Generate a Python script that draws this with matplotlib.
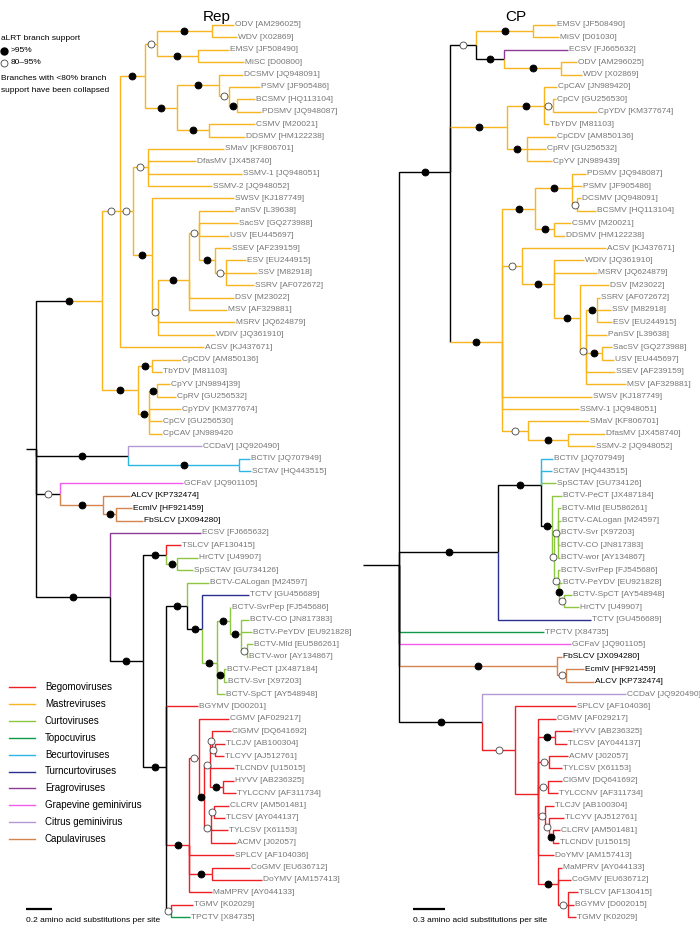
import matplotlib
matplotlib.use('Agg')
import matplotlib.pyplot as plt
from matplotlib.lines import Line2D

plt.rcParams['font.family'] = ['Liberation Sans', 'DejaVu Sans']

# virus groups (legend order) and their colours
group_codes = ['be', 'ma', 'cu', 'to', 'bc', 'tu', 'er', 'gr', 'ci', 'ca']
group_names = ['Begomoviruses', 'Mastreviruses', 'Curtoviruses', 'Topocuvirus',
               'Becurtoviruses', 'Turncurtoviruses', 'Eragroviruses',
               'Grapevine geminivirus', 'Citrus geminivirus', 'Capulaviruses']
group_colors = ['#ED2024', '#F9B51E', '#8DC63F', '#0E9A48', '#2AB7E3',
                '#2B3090', '#8E3B97', '#F25CEE', '#B49AD2', '#D4844C']

# trees: newick, branch lengths in amino acid substitutions per site
# internal label: '*' = aLRT >95%, 'o' = 80-95%
# '=xx' = group colour of the branch ('|' vertical part black, '/' colour starts mid-branch)
rep_tree = """
(
 (
  (
   (
    (
     (ODV [AM296025]:0.169,WDV [X02869]:0.192)*:0.423,
     (EMSV [JF508490]:0.238,MiSC [D00800]:0.354)*:0.315
    )o:0.092,
    (
     (DCSMV [JQ948091]:0.185,(PSMV [JF905486]:0.238,(BCSMV [HQ113104]:0.138,PDSMV [JQ948087]:0.185)*:0.062)o:0.077)*:0.323,
     (CSMV [M20021]:0.354,DDSMV [HM122238]:0.277)*:0.246
    )*:0.246
   )*:0.192,
   (
    (SMaV [KF806701]:0.585,DfasMV [JX458740]:0.369,SSMV-1 [JQ948051]:0.723,SSMV-2 [JQ948052]:0.492)o:0.115,
    (
     SWSV [KJ187749]:0.631,
     (
      (
       (
        PanSV [L39638]:0.269,SacSV [GQ273988]:0.3,USV [EU445697]:0.231,
        (SSEV [AF239159]:0.123,(ESV [EU244915]:0.154,SSV [M82918]:0.238,SSRV [AF072672]:0.215)o:0.085)*:0.123
       )o:0.077,
       DSV [M23022]:0.346,MSV [AF329881]:0.292
      )*:0.238,
      MSRV [JQ624879]:0.592,WDIV [JQ361910]:0.438
     )o:0.046
    )*:0.146
   )o:0.1,
   ACSV [KJ437671]:0.646
  )o:0.138,
  (
   (CpCDV [AM850136]:0.223,TbYDV [M81103]:0.077)*:0.108,
   ((CpYV [JN9894]39]:0.1,CpRV [GU256532]:0.146)*:0.062,CpYDV [KM377674]:0.246,CpCV [GU256530]:0.1,CpCAV [JN989420:0.1)*:0.085
  )*:0.277
 )*=ma/:0.508,
 (CCDaV] [JQ920490]=ci:0.569,(BCTIV [JQ707949]:0.085,SCTAV [HQ443515]:0.092)*=bc:0.854)*:0.708,
 (GCFaV [JQ901105]=gr:0.946,(ALCV [KP732474]:0.208,(EcmlV [HF921459]:0.123,FbSLCV [JX094280]:0.208)*:0.1)*=ca:0.331)o:0.185,
 (
  ECSV [FJ665632]=er:0.7,
  (
   (TSLCV [AF130415]=be:0.115,(HrCTV [U49907]:0.162,SpSCTAV [GU734126]:0.123)*=cu:0.085)*:0.177,
   (
    (
     BCTV-CALogan [M24597]=cu:0.169,
     (
      TCTV [GU456689]=tu:0.362,
      (
       (BCTV-SvrPep [FJ545686]:0.004,(BCTV-CO [JN817383]:0.062,BCTV-PeYDV [EU921828]:0.085,(BCTV-Mld [EU586261]:0.046,BCTV-wor [AY134867]:0.008)o:0.046)*:0.085)*:0.1,
       (BCTV-PeCT [JX487184]:0.015,BCTV-Svr [X97203]:0.023)*:0.054,
       BCTV-SpCT [AY548948]:0.062
      )*=cu:0.115
     )*:0.115
    )*:0.162,
    BGYMV [D00201]=be|:0.246,
    (
     (
      CGMV [AF029217]:0.231,
      (
       ((ClGMV [DQ641692]:0.146,(TLCJV [AB100304]:0.077,TLCYV [AJ512761]:0.069)o:0.023)o:0.015,TLCNDV [U15015]:0.185,(HYVV [AB236325]:0.085,TYLCCNV [AF311734]:0.1)*:0.1)o:0.046,
       ((CLCRV [AM501481]:0.115,TLCSV [AY044137]:0.085)o:0.023,TYLCSV [X61153]:0.131,ACMV [J02057]:0.192)o:0.054
      )*:0.038
     )o:0.077,
     SPLCV [AF104036]:0.346,
     (CoGMV [EU636712]:0.292,DoYMV [AM157413]:0.385)*:0.177,
     MaMPRV [AY044133]:0.177
    )*=be|:0.177,
    (TGMV [K02029]=be:0.169,TPCTV [X84735]=to:0.146)o:0.038
   )*:0.177
  )*:0.254
 )*:0.569
):0.077
"""

cp_tree = """
(
 (
  (
   (EMSV [JF508490]:0.216,MiSV [D01030]:0.244)*=ma:0.534,
   (ECSV [FJ665632]=er:0.6,(ODV [AM296025]:0.15,WDV [X02869]:0.197)*=ma:0.534)*:0.263
  )o:0.244,
  (
   (CpCAV [JN989420]:0.122,(CpCV [GU256530]:0.028,CpYDV [KM377674]:0.413)o:0.084,TbYDV [M81103]:0.047)*:0.347,
   (CpCDV [AM850136]:0.272,CpRV [GU256532]:0.178,CpYV [JN989439]:0.234)*:0.188
  )*=ma|:0.534,
  (
   (
    (PDSMV [JQ948087]:0.131,PSMV [JF905486]:0.094,(DCSMV [JQ948091]:0.038,BCSMV [HQ113104]:0.178)o:0.047)*:0.347,
    (CSMV [M20021]:0.159,DDSMV [HM122238]:0.103)*:0.178
   )*:0.309,
   (
    ACSV [KJ437671]:0.788,
    (
     WDIV [JQ361910]:0.281,
     MSRV [JQ624879]:0.403,
     (
      DSV [M23022]:0.272,
      (
       (SSRV [AF072672]:0.028,SSV [M82918]:0.131,ESV [EU244915]:0.141)*:0.103,
       PanSV [L39638]:0.197,
       (SacSV [GQ273988]:0.094,USV [EU445697]:0.113)*:0.15,
       SSEV [AF239159]:0.272,
       MSV [AF329881]:0.375
      )o:0.056
     )*:0.244
    )*:0.3
   )o:0.188,
   SWSV [KJ187749]:0.844,
   SSMV-1 [JQ948051]:0.722,
   (SMaV [KF806701]:0.572,(DfasMV [JX458740]:0.347,SSMV-2 [JQ948052]:0.253)*:0.375)o:0.244
  )*=ma|:0.488
 )*:0.478,
 (
  (
   BCTIV [JQ707949]=bc:0.113,
   SCTAV [HQ443515]=bc:0.103,
   SpSCTAV [GU734126]=cu:0.141,
   (
    BCTV-PeCT [JX487184]=cu:0.094,
    (
     (BCTV-Mld [EU586261]:0.028,BCTV-CALogan [M24597]:0.028,BCTV-Svr [X97203]:0.019,BCTV-CO [JN817383]:0.019,BCTV-wor [AY134867]:0.019)o:0.038,
     (BCTV-SvrPep [FJ545686]:0.019,(BCTV-PeYDV [EU921828]:0.028,(BCTV-SpCT [AY548948]:0.075,HrCTV [U49907]:0.141)o:0.047)*:0.009)o:0.038
    )o=cu:0.019
   )*:0.103
  )*:0.403,
  TCTV [GU456689]=tu:0.872
 )*:0.928,
 TPCTV [X84735]=to|:1.359,
 GCFaV [JQ901105]=gr|:1.613,
 (FbSLCV [JX094280]:0.047,(EcmlV [HF921459]:0.169,ALCV [KP732474]:0.263)o:0.084)*=ca|:1.481,
 (
  CCDaV [JQ920490]=ci:1.35,
  (
   SPLCV [AF104036]:0.572,
   (
    CGMV [AF029217]:0.169,
    (HYVV [AB236325]:0.159,TLCSV [AY044137]:0.113)*:0.159,
    (ACMV [J02057]:0.178,TYLCSV [X61153]:0.122)o:0.103,
    (ClGMV [DQ641692]:0.131,TYLCCNV [AF311734]:0.094)o:0.094,
    (TLCJV [AB100304]:0.084,(TLCYV [AJ512761]:0.141,(CLCRV [AM501481]:0.066,TLCNDV [U15015]:0.056)*:0.038)o:0.038)o:0.066,
    DoYMV [AM157413]:0.15,
    (MaMPRV [AY044133]:0.038,CoGMV [EU636712]:0.122,(TSLCV [AF130415]:0.094,BGYMV [D002015]:0.056,TGMV [K02029]:0.075)o:0.094)*:0.188
   ):0.216
  )o=be:0.309
 )*:0.778
):0.338
"""

titles = ['Rep', 'CP']
scale_values = [0.2, 0.3]
scale_texts = ['0.2 amino acid substitutions per site', '0.3 amino acid substitutions per site']

W, H = 700, 927
colors = dict(zip(group_codes, group_colors))


def parse_tree(text):
    s = ''.join(line.strip() for line in text.strip().splitlines())
    pos = 0

    def read():
        nonlocal pos
        kids = []
        if s[pos] == '(':
            pos += 1
            while True:
                kids.append(read())
                c = s[pos]
                pos += 1
                if c == ')':
                    break
        start = pos
        while pos < len(s) and s[pos] not in ',():':
            pos += 1
        label = s[start:pos]
        length = 0.0
        if pos < len(s) and s[pos] == ':':
            pos += 1
            start = pos
            while pos < len(s) and s[pos] not in ',()':
                pos += 1
            length = float(s[start:pos])
        name, _, grp = label.partition('=')
        style = ''
        if grp and grp[-1] in '|/':
            style = grp[-1]
            grp = grp[:-1]
        return {'name': name.strip(), 'grp': grp or None, 'style': style,
                'len': length, 'kids': kids}

    return read()


def layout(node, x0, parent_grp, leaves):
    node['x0'] = x0
    node['x'] = x0 + node['len']
    node['g'] = node['grp'] or parent_grp
    if node['kids']:
        for k in node['kids']:
            layout(k, node['x'], node['g'], leaves)
        ys = [k['y'] for k in node['kids']]
        node['y'] = sum(ys) / len(ys)
    else:
        node['y'] = len(leaves)
        leaves.append(node)


LW = 1.0


def seg(ax, xs, ys, col):
    ax.plot(xs, ys, color=col, lw=LW, solid_capstyle='butt', solid_joinstyle='miter')


def draw(ax, node, pad, parent=None):
    col = colors.get(node['g'], 'black')
    xm = (node['x0'] + node['x']) / 2
    if parent is None:
        seg(ax, [node['x0'], node['x']], [node['y'], node['y']], 'black')
    elif node['style'] == '|':
        seg(ax, [parent['x'], parent['x']], [parent['y'], node['y']], 'black')
        seg(ax, [parent['x'], node['x']], [node['y'], node['y']], col)
    elif node['style'] == '/':
        seg(ax, [parent['x'], parent['x'], xm], [parent['y'], node['y'], node['y']], 'black')
        seg(ax, [xm, node['x']], [node['y'], node['y']], col)
    else:
        seg(ax, [parent['x'], parent['x'], node['x']], [parent['y'], node['y'], node['y']], col)
    for k in node['kids']:
        draw(ax, k, pad, node)
    if node['kids']:
        if node['name'] == '*':
            ax.plot(xm, node['y'], 'o', ms=5, mfc='black', mec='black', mew=0.6, zorder=5)
        elif node['name'] == 'o':
            ax.plot(xm, node['y'], 'o', ms=5, mfc='white', mec='#444444', mew=0.6, zorder=5)
    else:
        tc = 'black' if node['g'] == 'ca' else '#777777'
        ax.text(node['x'] + pad, node['y'], node['name'], fontsize=6, color=tc,
                va='center', ha='left')


fig = plt.figure(figsize=(W / 100, H / 100), dpi=100)

# pixel layout of the two panels: origin of the tree and pixels per unit
panels = [
    {'tree': rep_tree, 'left': 0, 'origin': 26, 'ppu': 26 / 0.2, 'root_mid': True,
     'title_x': 217, 'bar_x': 26},
    {'tree': cp_tree, 'left': 350, 'origin': 363, 'ppu': 32 / 0.3, 'root_mid': False,
     'title_x': 516, 'bar_x': 413},
]

first_y, step = 25.0, 12.39

for i, p in enumerate(panels):
    ax = fig.add_axes([p['left'] / W, 0, 350 / W, 1])
    ax.axis('off')
    root = parse_tree(p['tree'])
    leaves = []
    layout(root, 0.0, None, leaves)
    if p['root_mid']:
        ys = [k['y'] for k in root['kids']]
        root['y'] = (min(ys) + max(ys)) / 2
    ppu = p['ppu']
    x_lo = -(p['origin'] - p['left']) / ppu
    ax.set_xlim(x_lo, x_lo + 350 / ppu)
    ax.set_ylim((H - first_y) / step, -first_y / step)
    draw(ax, root, 1.2 / ppu)

    # scale bar
    bx = (p['bar_x'] - p['origin']) / ppu
    by = (909 - first_y) / step
    ax.plot([bx, bx + scale_values[i]], [by, by], color='black', lw=1.6, solid_capstyle='butt')
    ax.text(bx, (921 - first_y) / step, scale_texts[i], fontsize=6, color='black',
            va='center', ha='left')

    fig.text(p['title_x'] / W, 1 - 17 / H, titles[i], fontsize=11, ha='center', va='center')


def fx(x):
    return x / W


def fy(y):
    return 1 - y / H


# support legend (top left)
fig.text(fx(1), fy(38), 'aLRT branch support', fontsize=6, va='center', ha='left')
fig.add_artist(Line2D([fx(4)], [fy(51)], marker='o', ms=5, mfc='black', mec='black',
                      transform=fig.transFigure))
fig.text(fx(11), fy(51), '>95%', fontsize=6, va='center', ha='left')
fig.add_artist(Line2D([fx(4)], [fy(63)], marker='o', ms=5, mfc='white', mec='#444444', mew=0.6,
                      transform=fig.transFigure))
fig.text(fx(11), fy(63), '80\u201395%', fontsize=6, va='center', ha='left')
fig.text(fx(1), fy(78), 'Branches with <80% branch', fontsize=6, va='center', ha='left')
fig.text(fx(1), fy(90), 'support have been collapsed', fontsize=6, va='center', ha='left')

# colour legend (bottom left)
for j, (name, col) in enumerate(zip(group_names, group_colors)):
    y = 687 + j * 16.9
    fig.add_artist(Line2D([fx(9), fx(35)], [fy(y), fy(y)], color=col, lw=1.0,
                          transform=fig.transFigure))
    fig.text(fx(45), fy(y), name, fontsize=7, va='center', ha='left')

fig.savefig('out.png', dpi=100)
